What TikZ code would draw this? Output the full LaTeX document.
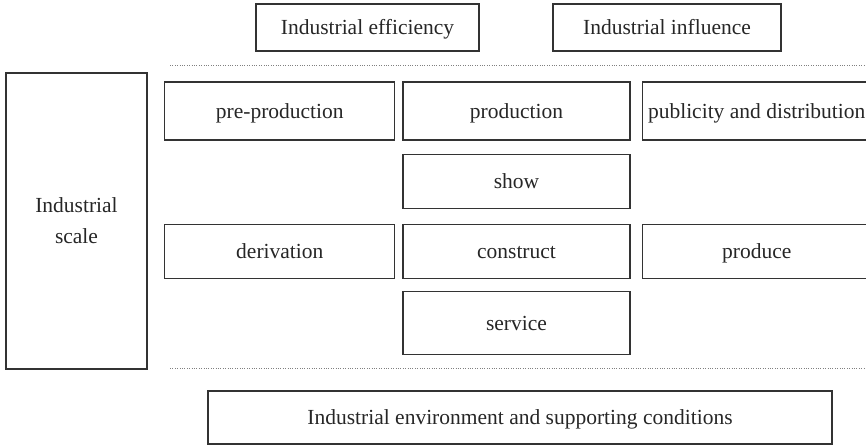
\documentclass[tikz,border=0pt]{standalone}
\usepackage{fontspec}
\setmainfont{Liberation Serif}
\usepackage{tikz}
\usetikzlibrary{positioning}

\begin{document}
\begin{tikzpicture}[
  x=0.5pt, y=-0.5pt,
  box/.style={draw=black!80, line width=0.6pt, rectangle, inner sep=2pt, text=black!85, font=\fontsize{10.75}{15.5}\selectfont, align=center},
  onebox/.style={box, text height=7pt, text depth=0pt},
  rowbox/.style={onebox, minimum height=29pt},
  midbox/.style={onebox, minimum height=27pt},
  sep/.style={black!50, line width=0.4pt, dash pattern=on 0.4pt off 0.8pt}
]
\clip (0,0) rectangle (866,445);

% Outputs on top
\node[onebox, minimum width=111.5pt, minimum height=23.5pt] (Eff)  at (367.5,27.5) {Industrial efficiency};
\node[onebox, minimum width=114pt,   minimum height=23.5pt] (Infl) at (667,27.5)   {Industrial influence};

% Scale on the left
\node[box, minimum width=70.5pt, minimum height=148pt] (Scale) at (76.5,221) {Industrial\\scale};

% Chain: first row
\node[rowbox, minimum width=113.5pt] (Prod)    at (516.5,111) {production};
\node[rowbox, minimum width=115pt]   (PreProd) [left=3.5pt of Prod]  {pre-production};
\node[rowbox, minimum width=114.5pt] (Pub)     [right=5.5pt of Prod] {publicity and distribution};

% Chain: middle column and second row
\node[midbox, minimum width=113.5pt] (Show)    [below=6.5pt of Prod]    {show};
\node[midbox, minimum width=113.5pt] (Constr)  [below=7.5pt of Show]    {construct};
\node[midbox, minimum width=115pt]   (Deriv)   [left=3.5pt of Constr]   {derivation};
\node[midbox, minimum width=114.5pt] (Produce) [right=5.5pt of Constr]  {produce};
\node[onebox, minimum width=113.5pt, minimum height=31.5pt] (Service) [below=6pt of Constr] {service};

% Environment at the bottom
\node[onebox, minimum width=312pt, minimum height=26.5pt] (Env) at (520,417.5) {Industrial environment and supporting conditions};

% Dotted separators
\coordinate (TopL) at (170,65);
\coordinate (TopR) at (866,65);
\coordinate (BotL) at (170,368);
\coordinate (BotR) at (866,368);
\draw[sep] (TopL) -- (TopR);
\draw[sep] (BotL) -- (BotR);

\end{tikzpicture}
\end{document}
